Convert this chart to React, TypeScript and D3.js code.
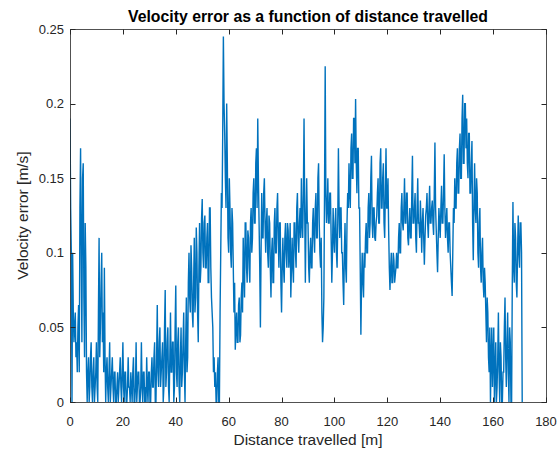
import React from "react";
import * as d3 from "d3";

// Sample spacing along the track (m)
const distanceStep = 0.25;

// Velocity error [m/s], one sample every 0.25 m, rows of 10 m
const velocityError: number[] = [
  // 0 - 9.75
  0.19, 0.13, 0.10, 0.0, 0.10, 0.06, 0.04, 0.05, 0.06, 0.03, 0.04, 0.02, 0.05, 0.065, 0.02, 0.13, 0.17, 0.10, 0.04, 0.15,
  0.16, 0.07, 0.03, 0.12, 0.09, 0.02, 0.0, 0.02, 0.03, 0.0, 0.01, 0.03, 0.04, 0.01, 0.0, 0.02, 0.03, 0.0, 0.01, 0.02,
  // 10 - 19.75
  0.04, 0.01, 0.0, 0.06, 0.11, 0.03, 0.05, 0.08, 0.10, 0.04, 0.06, 0.02, 0.09, 0.03, 0.0, 0.02, 0.03, 0.01, 0.0, 0.02,
  0.04, 0.0, 0.01, 0.02, 0.03, 0.01, 0.0, 0.02, 0.02, 0.0, 0.0, 0.01, 0.02, 0.0, 0.01, 0.02, 0.03, 0.01, 0.0, 0.02,
  // 20 - 29.75
  0.04, 0.01, 0.0, 0.02, 0.02, 0.0, 0.0, 0.01, 0.03, 0.01, 0.01, 0.0, 0.02, 0.01, 0.0, 0.02, 0.03, 0.0, 0.0, 0.01,
  0.04, 0.0, 0.01, 0.02, 0.02, 0.0, 0.0, 0.01, 0.04, 0.01, 0.0, 0.02, 0.02, 0.0, 0.01, 0.0, 0.03, 0.01, 0.0, 0.02,
  // 30 - 39.75
  0.02, 0.0, 0.0, 0.02, 0.03, 0.01, 0.01, 0.03, 0.04, 0.0, 0.0, 0.03, 0.065, 0.02, 0.01, 0.04, 0.05, 0.01, 0.02, 0.03,
  0.04, 0.0, 0.01, 0.05, 0.075, 0.01, 0.02, 0.04, 0.05, 0.01, 0.0, 0.03, 0.06, 0.02, 0.02, 0.04, 0.04, 0.0, 0.01, 0.05,
  // 40 - 49.75
  0.078, 0.02, 0.01, 0.04, 0.05, 0.01, 0.0, 0.03, 0.05, 0.01, 0.02, 0.04, 0.06, 0.02, 0.0, 0.04, 0.07, 0.02, 0.03, 0.08,
  0.10, 0.07, 0.06, 0.105, 0.09, 0.06, 0.05, 0.08, 0.11, 0.06, 0.07, 0.117, 0.10, 0.06, 0.04, 0.09, 0.12, 0.08, 0.09, 0.123,
  // 50 - 59.75
  0.136, 0.10, 0.09, 0.12, 0.125, 0.09, 0.09, 0.11, 0.12, 0.08, 0.08, 0.13, 0.13, 0.09, 0.07, 0.06, 0.05, 0.02, 0.03, 0.01,
  0.02, 0.0, 0.0, 0.02, 0.03, 0.0, 0.0, 0.06, 0.10, 0.14, 0.13, 0.18, 0.245, 0.20, 0.18, 0.15, 0.13, 0.20, 0.16, 0.11,
  // 60 - 69.75
  0.10, 0.15, 0.13, 0.10, 0.09, 0.13, 0.12, 0.09, 0.06, 0.08, 0.035, 0.05, 0.06, 0.04, 0.04, 0.065, 0.07, 0.04, 0.045, 0.07,
  0.08, 0.06, 0.11, 0.09, 0.07, 0.12, 0.12, 0.09, 0.08, 0.115, 0.11, 0.09, 0.08, 0.12, 0.13, 0.10, 0.11, 0.14, 0.15, 0.12,
  // 70 - 79.75
  0.12, 0.16, 0.17, 0.13, 0.19, 0.15, 0.12, 0.09, 0.05, 0.10, 0.14, 0.11, 0.11, 0.14, 0.15, 0.12, 0.10, 0.12, 0.13, 0.10,
  0.09, 0.125, 0.12, 0.09, 0.07, 0.10, 0.11, 0.08, 0.08, 0.12, 0.13, 0.10, 0.10, 0.13, 0.14, 0.11, 0.09, 0.12, 0.12, 0.08,
  // 80 - 89.75
  0.06, 0.09, 0.11, 0.09, 0.08, 0.11, 0.12, 0.10, 0.09, 0.12, 0.115, 0.09, 0.10, 0.12, 0.07, 0.09, 0.11, 0.09, 0.08, 0.12,
  0.12, 0.10, 0.09, 0.13, 0.14, 0.11, 0.10, 0.12, 0.13, 0.11, 0.15, 0.12, 0.11, 0.14, 0.19, 0.13, 0.08, 0.12, 0.15, 0.12,
  // 90 - 99.75
  0.12, 0.09, 0.08, 0.10, 0.11, 0.09, 0.09, 0.12, 0.13, 0.11, 0.10, 0.13, 0.14, 0.11, 0.11, 0.15, 0.16, 0.12, 0.10, 0.09,
  0.11, 0.06, 0.04, 0.05, 0.07, 0.14, 0.225, 0.14, 0.12, 0.13, 0.15, 0.12, 0.12, 0.14, 0.14, 0.11, 0.08, 0.10, 0.13, 0.11,
  // 100 - 109.75
  0.10, 0.12, 0.13, 0.10, 0.09, 0.12, 0.17, 0.13, 0.11, 0.13, 0.13, 0.10, 0.10, 0.08, 0.065, 0.10, 0.12, 0.09, 0.08, 0.12,
  0.14, 0.13, 0.16, 0.14, 0.13, 0.17, 0.18, 0.15, 0.15, 0.19, 0.19, 0.16, 0.203, 0.16, 0.14, 0.17, 0.17, 0.13, 0.13, 0.09,
  // 110 - 119.75
  0.045, 0.08, 0.10, 0.08, 0.07, 0.10, 0.09, 0.11, 0.12, 0.10, 0.10, 0.13, 0.14, 0.11, 0.12, 0.15, 0.165, 0.12, 0.11, 0.13,
  0.13, 0.11, 0.108, 0.12, 0.125, 0.14, 0.15, 0.12, 0.12, 0.16, 0.17, 0.13, 0.13, 0.15, 0.16, 0.12, 0.11, 0.14, 0.17, 0.13,
  // 120 - 129.75
  0.13, 0.15, 0.115, 0.09, 0.075, 0.09, 0.10, 0.08, 0.08, 0.10, 0.095, 0.08, 0.085, 0.09, 0.10, 0.09, 0.09, 0.11, 0.12, 0.10,
  0.10, 0.13, 0.14, 0.12, 0.115, 0.13, 0.15, 0.12, 0.12, 0.14, 0.14, 0.11, 0.105, 0.12, 0.13, 0.11, 0.11, 0.14, 0.165, 0.12,
  // 130 - 139.75
  0.12, 0.13, 0.14, 0.11, 0.10, 0.13, 0.15, 0.12, 0.12, 0.11, 0.135, 0.12, 0.10, 0.12, 0.13, 0.11, 0.092, 0.11, 0.125, 0.13,
  0.14, 0.12, 0.11, 0.13, 0.145, 0.12, 0.12, 0.13, 0.135, 0.12, 0.112, 0.14, 0.174, 0.13, 0.115, 0.10, 0.087, 0.11, 0.13, 0.12,
  // 140 - 149.75
  0.11, 0.13, 0.145, 0.12, 0.12, 0.14, 0.166, 0.13, 0.11, 0.12, 0.13, 0.11, 0.10, 0.12, 0.12, 0.10, 0.09, 0.08, 0.071, 0.10,
  0.13, 0.12, 0.15, 0.13, 0.13, 0.16, 0.17, 0.14, 0.14, 0.17, 0.18, 0.15, 0.15, 0.19, 0.206, 0.16, 0.16, 0.20, 0.20, 0.17,
  // 150 - 159.75
  0.19, 0.16, 0.15, 0.18, 0.18, 0.14, 0.14, 0.16, 0.175, 0.12, 0.095, 0.13, 0.16, 0.13, 0.12, 0.15, 0.14, 0.10, 0.09, 0.12,
  0.13, 0.09, 0.08, 0.10, 0.11, 0.08, 0.07, 0.09, 0.08, 0.06, 0.04, 0.07, 0.06, 0.03, 0.02, 0.05, 0.0, 0.03, 0.05, 0.01,
  // 160 - 169.75
  0.03, 0.05, 0.0, 0.02, 0.04, 0.0, 0.01, 0.03, 0.06, 0.02, 0.0, 0.04, 0.03, 0.0, 0.0, 0.02, 0.02, 0.05, 0.07, 0.03,
  0.01, 0.04, 0.06, 0.02, 0.0, 0.05, 0.04, 0.0, 0.0, 0.08, 0.134, 0.09, 0.08, 0.12, 0.11, 0.08, 0.07, 0.10, 0.125, 0.10,
  // 170 - 171
  0.09, 0.12, 0.12, 0.10, 0.0,
];

const xTicks = [0, 20, 40, 60, 80, 100, 120, 140, 160, 180];
const yTicks = [0, 0.05, 0.1, 0.15, 0.2, 0.25];
const yTickLabels = ["0", "0.05", "0.1", "0.15", "0.2", "0.25"];

const titleText = "Velocity error as a function of distance travelled";
const xLabelText = "Distance travelled [m]";
const yLabelText = "Velocity error [m/s]";

export default function App() {
  const W = 560;
  const H = 453;
  const left = 70;
  const right = 546;
  const top = 29;
  const bottom = 402;

  const x = d3.scaleLinear().domain([0, 180]).range([left, right]);
  const y = d3.scaleLinear().domain([0, 0.25]).range([bottom, top]);

  const points: [number, number][] = velocityError.map((v, i) => [i * distanceStep, v]);
  const line = d3
    .line<[number, number]>()
    .x((d) => x(d[0]))
    .y((d) => y(d[1]));

  const axisColor = "#262626";
  const font = "'Liberation Sans', Arial, Helvetica, sans-serif";
  const tickLen = 5;

  return (
    <svg
      width={W}
      height={H}
      style={{ position: "absolute", left: 0, top: 0, background: "#fff" }}
      fontFamily={font}
    >
      <rect x={0} y={0} width={W} height={H} fill="#fff" />
      <defs>
        <clipPath id="plotClip">
          <rect x={left} y={top - 1} width={right - left} height={bottom - top + 2} />
        </clipPath>
      </defs>
      <path
        d={line(points) || ""}
        fill="none"
        stroke="#0072BD"
        strokeWidth={1.4}
        strokeLinejoin="miter"
        clipPath="url(#plotClip)"
      />
      {/* box */}
      <rect
        x={left + 0.5}
        y={top + 0.5}
        width={right - left}
        height={bottom - top}
        fill="none"
        stroke={axisColor}
        strokeWidth={1}
        strokeOpacity={0.8}
      />
      {/* x ticks */}
      {xTicks.map((t) => {
        const px = Math.round(x(t)) + 0.5;
        return (
          <g key={"x" + t}>
            <line x1={px} x2={px} y1={bottom + 0.5} y2={bottom + 0.5 - tickLen} stroke={axisColor} />
            <line x1={px} x2={px} y1={top + 0.5} y2={top + 0.5 + tickLen} stroke={axisColor} />
            <text x={x(t)} y={426} textAnchor="middle" fontSize={13} fill={axisColor}>
              {t}
            </text>
          </g>
        );
      })}
      {/* y ticks */}
      {yTicks.map((t, i) => {
        const py = Math.round(y(t)) + 0.5;
        return (
          <g key={"y" + t}>
            <line x1={left + 0.5} x2={left + 0.5 + tickLen} y1={py} y2={py} stroke={axisColor} />
            <line x1={right + 0.5} x2={right + 0.5 - tickLen} y1={py} y2={py} stroke={axisColor} />
            <text x={64} y={y(t) + 4.5} textAnchor="end" fontSize={13} fill={axisColor}>
              {yTickLabels[i]}
            </text>
          </g>
        );
      })}
      <text
        x={(left + right) / 2}
        y={21.5}
        textAnchor="middle"
        fontSize={15.8}
        fontWeight="bold"
        fill="#000"
      >
        {titleText}
      </text>
      <text x={(left + right) / 2} y={445} textAnchor="middle" fontSize={15.5} fill={axisColor}>
        {xLabelText}
      </text>
      <text
        transform={`translate(28, ${(top + bottom) / 2}) rotate(-90)`}
        textAnchor="middle"
        fontSize={15.5}
        fill={axisColor}
      >
        {yLabelText}
      </text>
    </svg>
  );
}
